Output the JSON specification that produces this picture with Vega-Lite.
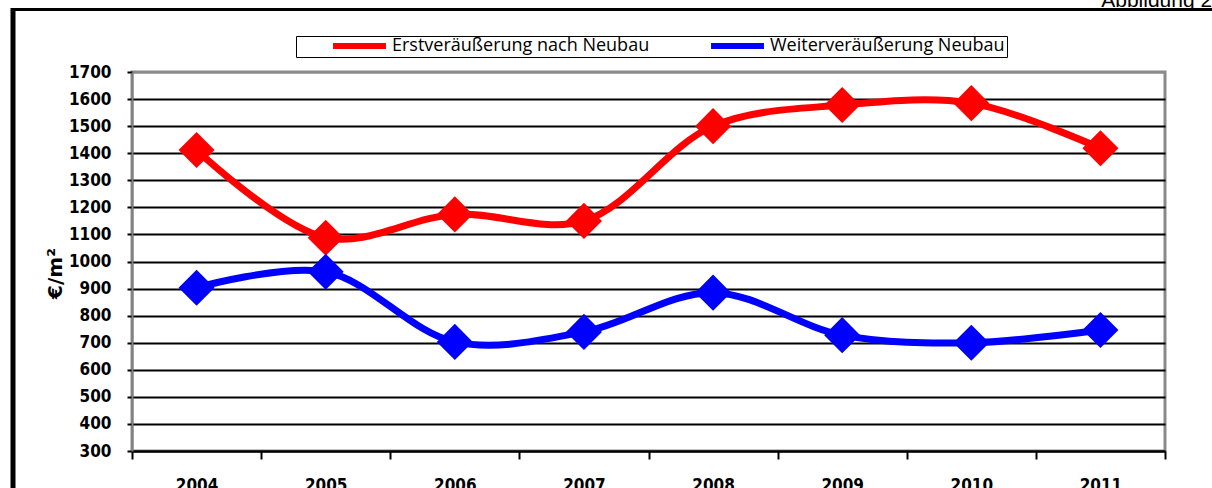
{
  "$schema": "https://vega.github.io/schema/vega-lite/v6.json",
  "autosize": {"type": "none"},
  "padding": {"left": 132, "top": 72, "right": 47, "bottom": 37},
  "width": 1033,
  "height": 379,
  "background": "white",
  "title": {"text": "Abbildung 2.", "anchor": "end", "frame": "group", "font": "Liberation Sans", "fontSize": 21, "fontWeight": "normal", "color": "black", "offset": 0, "dx": 53, "dy": 2},
  "config": {
    "view": {"stroke": "#8a8a8a", "strokeWidth": 3},
    "axis": {"labelFont": "DejaVu Sans Condensed", "labelFontWeight": "bold", "labelFontSize": 17, "labelColor": "black", "titleFont": "DejaVu Sans", "titleFontWeight": "bold", "titleColor": "black"}
  },
  "datasets": {
    "d": [
      {"year": "2004", "series": "Erstveräußerung nach Neubau", "value": 1412},
      {"year": "2005", "series": "Erstveräußerung nach Neubau", "value": 1088},
      {"year": "2006", "series": "Erstveräußerung nach Neubau", "value": 1174},
      {"year": "2007", "series": "Erstveräußerung nach Neubau", "value": 1150},
      {"year": "2008", "series": "Erstveräußerung nach Neubau", "value": 1500},
      {"year": "2009", "series": "Erstveräußerung nach Neubau", "value": 1578},
      {"year": "2010", "series": "Erstveräußerung nach Neubau", "value": 1585},
      {"year": "2011", "series": "Erstveräußerung nach Neubau", "value": 1418},
      {"year": "2004", "series": "Weiterveräußerung Neubau", "value": 903},
      {"year": "2005", "series": "Weiterveräußerung Neubau", "value": 962},
      {"year": "2006", "series": "Weiterveräußerung Neubau", "value": 703},
      {"year": "2007", "series": "Weiterveräußerung Neubau", "value": 740},
      {"year": "2008", "series": "Weiterveräußerung Neubau", "value": 885},
      {"year": "2009", "series": "Weiterveräußerung Neubau", "value": 728},
      {"year": "2010", "series": "Weiterveräußerung Neubau", "value": 700},
      {"year": "2011", "series": "Weiterveräußerung Neubau", "value": 747}
    ]
  },
  "data": {"name": "d"},
  "layer": [
    {
      "encoding": {
        "x": {
          "field": "year", "type": "ordinal",
          "scale": {"type": "band", "paddingInner": 0, "paddingOuter": 0},
          "axis": {"title": null, "labelAngle": 0, "domainColor": "black", "domainWidth": 2, "tickColor": "black", "tickWidth": 2, "tickSize": 8, "tickBand": "extent", "labelPadding": 18, "grid": false}
        },
        "y": {
          "field": "value", "type": "quantitative",
          "scale": {"domain": [300, 1700], "nice": false, "zero": false},
          "axis": {"title": "€/m²", "titleFontSize": 20, "titlePadding": 3, "titleY": 201, "format": "d", "values": [300, 400, 500, 600, 700, 800, 900, 1000, 1100, 1200, 1300, 1400, 1500, 1600, 1700], "domainColor": "#808080", "domainWidth": 2, "tickColor": "black", "tickWidth": 2, "tickSize": 5, "labelPadding": 16, "grid": true, "gridWidth": 2, "gridColor": {"condition": {"test": "datum.value === 1700", "value": "#8a8a8a"}, "value": "black"}, "gridOpacity": 1}
        },
        "color": {
          "field": "series", "type": "nominal",
          "scale": {"domain": ["Erstveräußerung nach Neubau", "Weiterveräußerung Neubau"], "range": ["#ff0000", "#0000ff"]},
          "legend": {"title": null, "orient": "none", "legendX": 164, "legendY": -36, "direction": "horizontal", "columns": 2, "strokeColor": "black", "fillColor": "white", "padding": 2, "symbolType": "stroke", "symbolSize": 2800, "symbolStrokeWidth": 6, "clipHeight": 16, "symbolOffset": 32, "labelOffset": 3, "columnPadding": 26, "labelFont": "Open Sans", "labelFontSize": 18, "labelColor": "black", "labelLimit": 400}
        }
      },
      "layer": [
        {"mark": {"type": "line", "interpolate": "catmull-rom", "strokeWidth": 7, "strokeCap": "round"}},
        {"mark": {"type": "point", "shape": "diamond", "filled": true, "size": 1300, "opacity": 1}, "encoding": {"color": {"field": "series", "type": "nominal", "legend": null}}}
      ]
    },
    {
      "mark": {"type": "point", "opacity": 0},
      "encoding": {
        "x": {"field": "year", "type": "ordinal", "scale": {"type": "band", "range": [-122, 1080]}, "axis": {"orient": "top", "offset": 63, "title": null, "labels": false, "ticks": false, "grid": false, "domainColor": "black", "domainWidth": 3}},
        "y": {"field": "value", "type": "quantitative", "scale": {"domain": [300, 1700], "range": [416, -62]}, "axis": {"orient": "left", "offset": 119.5, "title": null, "labels": false, "ticks": false, "grid": false, "domainColor": "black", "domainWidth": 5}}
      }
    }
  ],
  "resolve": {"scale": {"x": "independent", "y": "independent"}, "axis": {"x": "independent", "y": "independent"}}
}
